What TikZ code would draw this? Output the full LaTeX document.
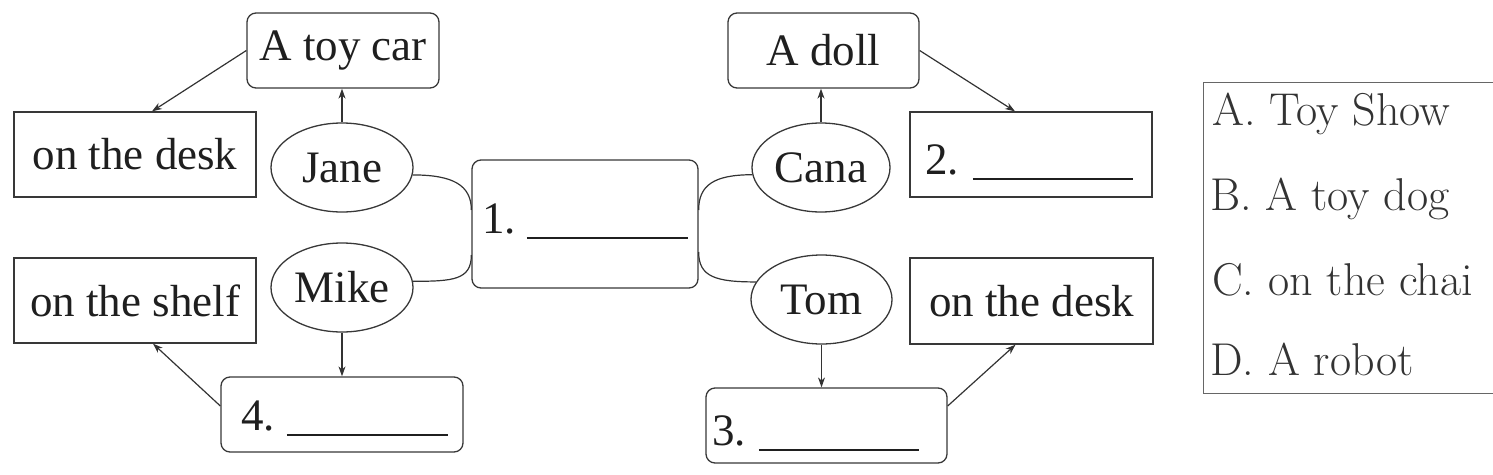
\documentclass[tikz,border=0pt]{standalone}
\usepackage{fontspec}
\newfontfamily\tnr{Liberation Serif}
\usetikzlibrary{shapes.geometric,arrows.meta,calc}
\begin{document}
\begin{tikzpicture}[x=1pt,y=-1pt,
  mainfont/.style={font=\tnr\fontsize{45}{54}\selectfont, text=black!88},
  rbox/.style={draw=black!78, line width=1.3pt, rounded corners=9pt, inner sep=0pt, mainfont},
  sbox/.style={draw=black!78, line width=1.3pt, inner sep=0pt, mainfont},
  oval/.style={ellipse, draw=black!78, line width=1.3pt, inner sep=0pt, mainfont},
  txt/.style={anchor=base west, inner sep=0pt, mainfont},
  legtxt/.style={anchor=base west, inner sep=0pt, font=\fontsize{46}{55}\selectfont, text=black!80},
  arr/.style={-{Stealth[length=10pt,width=7pt]}, line width=1.2pt, draw=black!80},
  conn/.style={line width=1.2pt, draw=black!80}]
\useasboundingbox (0,0) rectangle (1493,474);
\clip (0,0) rectangle (1493,474);

% left half
\node[rbox, minimum width=192pt, minimum height=75pt] (car) at (343,50.5) {A toy car};
\node[sbox, minimum width=242pt, minimum height=85pt] (desk1) at (135,154.5) {on the desk};
\node[oval, minimum width=142pt, minimum height=89pt] (jane) at (342,167.5) {Jane};
\node[oval, minimum width=142pt, minimum height=89pt] (mike) at (342,287.5) {Mike};
\node[sbox, minimum width=242pt, minimum height=85pt] (shelf) at (135,300.5) {on the shelf};
\node[rbox, minimum width=242pt, minimum height=75pt] (b4) at (342,414.5) {};
\node[txt] (t4) at (241,430) {4.\hspace{12pt}\rule[-6pt]{161pt}{1.8pt}};

% centre
\node[rbox, minimum width=226pt, minimum height=128pt] (b1) at (585,224) {};
\node[txt] (t1) at (482,233) {1.\hspace{11pt}\rule[-6pt]{161pt}{1.8pt}};

% right half
\node[rbox, minimum width=191pt, minimum height=75pt] (doll) at (823.5,50.5) {A doll};
\node[oval, minimum width=138pt, minimum height=89pt] (cana) at (821,167.5) {Cana};
\node[sbox, minimum width=242pt, minimum height=85pt] (b2) at (1031,154.5) {};
\node[txt] (t2) at (925,174) {2.\hspace{14pt}\rule[-6pt]{160pt}{1.8pt}};
\node[oval, minimum width=141pt, minimum height=89pt] (tom) at (821.5,299.5) {Tom};
\node[sbox, minimum width=243pt, minimum height=86pt] (desk2) at (1031.5,301) {on the desk};
\node[rbox, minimum width=241pt, minimum height=75pt] (b3) at (826.5,425.5) {};
\node[txt] (t3) at (712,445) {3.\hspace{13pt}\rule[-6pt]{160pt}{1.8pt}};

% arrows
\draw[arr] (jane.north) -- (jane.north |- car.south);
\draw[arr] (car.west) -- ($(desk1.north)+(17,0)$);
\draw[arr] (mike.south) -- (mike.south |- b4.north);
\draw[arr] ($(b4.west)+(0,-8.5)$) -- ($(shelf.south)+(18,0)$);
\draw[arr] (cana.north) -- (cana.north |- doll.south);
\draw[arr] (doll.east) -- ($(b2.north)+(-16,0)$);
\draw[arr] (tom.south) -- (tom.south |- b3.north);
\draw[arr] ($(b3.east)+(0,-19.5)$) -- ($(desk2.south)+(-16,0)$);

% curved connectors
\draw[conn] (jane.-6) .. controls +(40,0) and +(0,-25) .. ($(b1.west)+(0,-14)$);
\draw[conn] (mike.5) .. controls +(40,0) and +(0,25) .. ($(b1.west)+(0,31)$);
\draw[conn] (cana.186) .. controls +(-38,0) and +(0,-25) .. ($(b1.east)+(0,-14)$);
\draw[conn] (tom.165) .. controls +(-40,0) and +(0,25) .. ($(b1.east)+(0,28)$);

% legend
\node[draw=black!60, line width=0.9pt, minimum width=310pt, minimum height=311pt, inner sep=0pt] (legend) at (1358,237.5) {};
\node[legtxt] (la) at (1212,125) {A. Toy Show};
\node[legtxt] (lb) at (1210,210) {B. A toy dog};
\node[legtxt] (lc) at (1212,295) {C. on the chai};
\node[legtxt] (ld) at (1210,375) {D. A robot};
\end{tikzpicture}
\end{document}
